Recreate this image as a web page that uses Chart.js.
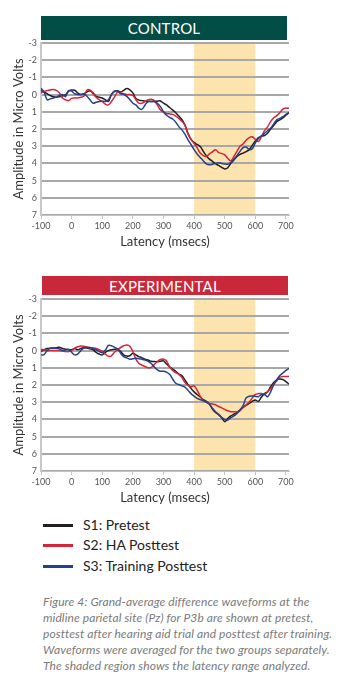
<!DOCTYPE html>
<html>
<head>
<meta charset="utf-8">
<script src="https://cdn.jsdelivr.net/npm/chart.js@4/dist/chart.umd.min.js"></script>
<style>
  html,body{margin:0;padding:0;background:#fff;width:357px;height:688px;overflow:hidden;font-family:"Lato","Open Sans",sans-serif;}
  .cv{position:absolute;left:0;}
  .banner{position:absolute;color:#fff;text-align:center;font-family:"Lato",sans-serif;font-weight:400;letter-spacing:0.2px;}
  #b1{left:41px;top:16px;width:246px;height:24px;line-height:25px;background:#034d47;font-size:15px;}
  #b2{left:42px;top:276px;width:246px;height:19px;line-height:20px;background:#c9283a;font-size:15px;}
  .leg{position:absolute;left:43px;font-size:14px;color:#222;font-family:"Lato",sans-serif;}
  .leg span.ln{display:inline-block;width:30px;height:3px;vertical-align:middle;margin-right:10px;position:relative;top:-1px;}
  #cap{position:absolute;left:43px;top:594px;white-space:nowrap;font-size:12px;letter-spacing:0.1px;line-height:16px;font-style:italic;color:#7a7a7a;font-family:"Lato",sans-serif;}
</style>
</head>
<body>
<canvas id="c1" class="cv" style="top:0px;width:357px;height:250px"></canvas>
<canvas id="c2" class="cv" style="top:256px;width:357px;height:250px"></canvas>
<div id="b1" class="banner">CONTROL</div>
<div id="b2" class="banner">EXPERIMENTAL</div>
<div class="leg" style="top:516px"><span class="ln" style="background:#231f20"></span>S1: Pretest</div>
<div class="leg" style="top:536px"><span class="ln" style="background:#d2263a"></span>S2: HA Posttest</div>
<div class="leg" style="top:557px"><span class="ln" style="background:#27408b"></span>S3: Training Posttest</div>
<div id="cap">Figure 4: Grand-average difference waveforms at the<br>midline parietal site (Pz) for P3b are shown at pretest,<br>posttest after hearing aid trial and posttest after training.<br>Waveforms were averaged for the two groups separately.<br>The shaded region shows the latency range analyzed.</div>
<script>
// Latency (ms) sampled every 10 ms from -100 to 710
const latency = [];
for (let t = -100; t <= 710; t += 10) latency.push(t);

const seriesNames = ["S1: Pretest", "S2: HA Posttest", "S3: Training Posttest"];
const xTickLabels = [-100, 0, 100, 200, 300, 400, 500, 600, 700];
const yTickLabels = [-3, -2, -1, 0, 1, 2, 3, 4, 5, 6, 7];
const shadedRange = [400, 600];

// CONTROL group
const controlPretest = [-0.23,-0.15,-0.05,0.05,0.12,0.15,0.12,0.08,0.02,-0.2,-0.27,-0.25,-0.1,0.0,-0.05,-0.15,-0.23,-0.1,0.1,0.15,0.2,0.3,0.4,0.0,-0.2,-0.22,-0.15,-0.25,-0.35,-0.28,-0.1,0.22,0.32,0.35,0.38,0.4,0.4,0.4,0.38,0.37,0.5,0.6,0.75,0.9,1.05,1.25,1.45,1.77,2.25,2.6,2.78,2.9,3.02,3.3,3.55,3.75,3.88,4.02,4.12,4.23,4.32,4.25,4.0,3.8,3.6,3.47,3.4,3.32,3.2,2.95,2.7,2.5,2.42,2.38,2.25,2.0,1.8,1.57,1.47,1.35,1.2,1.05];
const controlHA = [-0.1,-0.18,-0.23,-0.27,-0.3,-0.25,-0.1,0.2,0.3,0.35,0.22,0.2,0.2,0.15,0.1,-0.25,-0.27,-0.05,0.15,0.3,0.4,0.55,0.6,0.4,0.15,-0.15,-0.1,-0.05,0.0,0.0,0.05,0.3,0.5,0.5,0.4,0.3,0.27,0.35,0.6,0.9,1.0,1.1,1.12,1.15,1.25,1.38,1.55,1.77,2.3,2.6,2.83,3.1,3.4,3.55,3.6,3.45,3.33,3.2,3.37,3.42,3.5,3.7,3.85,3.6,3.3,3.0,2.87,2.65,2.5,2.45,2.6,2.73,2.45,2.1,1.88,1.57,1.35,1.22,1.05,0.85,0.78,0.8];
const controlTraining = [-0.37,-0.15,0.3,0.25,0.2,0.15,0.05,0.0,0.12,-0.23,-0.2,-0.05,0.0,0.0,-0.05,0.1,0.3,0.5,0.45,0.4,0.38,0.4,0.3,0.0,-0.18,-0.2,-0.05,-0.02,0.1,0.28,0.5,0.6,0.8,0.85,0.6,0.4,0.4,0.4,0.5,0.7,1.0,1.2,1.32,1.42,1.6,1.86,2.05,2.3,2.63,2.9,3.2,3.45,3.65,3.85,4.03,4.08,4.05,4.0,3.96,4.0,4.03,4.05,3.95,3.76,3.55,3.3,3.08,3.05,3.2,3.15,2.8,2.55,2.4,2.25,2.1,1.95,1.7,1.47,1.38,1.28,1.15,1.05];

// EXPERIMENTAL group
const expPretest = [0.05,-0.05,-0.12,-0.14,-0.14,-0.16,-0.2,-0.12,-0.08,-0.05,-0.05,-0.12,-0.05,-0.12,-0.17,-0.15,-0.1,-0.05,0.1,0.2,0.25,0.1,0.0,-0.05,-0.08,-0.08,0.05,0.25,0.32,0.3,0.15,0.25,0.35,0.42,0.5,0.55,0.62,0.64,0.64,0.62,0.6,0.78,0.95,1.08,1.2,1.36,1.45,1.7,1.98,2.2,2.4,2.55,2.7,2.85,2.95,3.1,3.4,3.6,3.72,3.9,4.13,3.95,3.8,3.7,3.6,3.45,3.3,3.18,3.07,2.95,2.87,2.95,2.7,2.5,2.39,2.1,1.85,1.7,1.65,1.68,1.8,1.95];
const expHA = [-0.08,-0.03,0.0,0.0,0.0,0.0,0.0,0.02,0.05,0.06,0.0,-0.14,-0.22,-0.27,-0.25,-0.2,-0.17,-0.15,-0.12,-0.05,0.05,0.2,0.33,0.3,0.1,-0.05,-0.18,-0.28,-0.33,-0.25,0.05,0.5,0.75,0.85,0.93,1.0,0.98,0.8,0.65,0.52,0.5,0.6,0.95,1.15,1.28,1.38,1.55,1.85,2.02,2.1,2.05,2.3,2.65,2.9,3.0,3.07,3.1,3.15,3.25,3.33,3.42,3.5,3.55,3.56,3.56,3.5,3.3,3.15,3.0,2.75,2.55,2.5,2.5,2.55,2.4,2.2,1.95,1.75,1.55,1.5,1.51,1.51];
const expTraining = [0.25,0.23,0.0,-0.14,-0.15,-0.14,-0.1,0.0,-0.03,-0.08,0.1,0.25,0.2,0.0,-0.15,-0.2,-0.18,-0.12,-0.05,0.05,0.12,-0.02,-0.3,-0.28,-0.2,-0.1,0.15,0.35,0.42,0.5,0.48,0.45,0.47,0.5,0.55,0.62,0.75,0.95,1.12,1.2,1.2,1.25,1.38,1.65,1.9,1.97,2.05,2.12,2.3,2.5,2.65,2.78,2.85,2.92,3.0,3.12,3.35,3.55,3.7,3.88,4.0,4.04,3.9,3.8,3.65,3.45,3.2,2.75,2.65,2.64,2.66,2.68,2.55,2.55,2.68,2.4,2.0,1.7,1.45,1.3,1.15,1.03];

const seriesColors = ["#231f20", "#d2263a", "#27408b"];

const shadePlugin = {
  id: 'shade',
  beforeDraw(chart) {
    const {ctx, chartArea, scales} = chart;
    const x0 = scales.x.getPixelForValue(shadedRange[0]);
    const x1 = scales.x.getPixelForValue(shadedRange[1]);
    ctx.save();
    ctx.fillStyle = '#fde4ae';
    ctx.fillRect(x0, chartArea.top, x1 - x0, chartArea.bottom - chartArea.top);
    ctx.restore();
  }
};

function makeChart(id, seriesList, padLeft) {
  const datasets = seriesList.map((vals, i) => ({
    label: seriesNames[i],
    data: latency.map((t, k) => ({x: t, y: vals[k]})),
    borderColor: seriesColors[i],
    borderWidth: 1.5,
    pointRadius: 0,
    tension: 0.35,
    fill: false
  }));
  // draw black on top like the reference (blue, red, black order)
  const ordered = [datasets[2], datasets[1], datasets[0]];
  return new Chart(document.getElementById(id), {
    type: 'line',
    data: {datasets: ordered},
    plugins: [shadePlugin],
    options: {
      responsive: false,
      animation: false,
      devicePixelRatio: 1,
      layout: {padding: {top: 43, left: padLeft, right: 68, bottom: 0}},
      plugins: {legend: {display: false}, tooltip: {enabled: false}},
      scales: {
        x: {
          type: 'linear',
          min: -100, max: 710,
          afterBuildTicks(scale) { scale.ticks = xTickLabels.map(v => ({value: v})); },
          afterFit(scale) { scale.height = 35; },
          grid: {drawOnChartArea: false, drawTicks: true, tickLength: 4, color: '#c4c4c4', lineWidth: 1},
          border: {color: '#c4c4c4', width: 1},
          ticks: {font: {family: 'Lato', size: 9}, color: '#555', padding: 2, maxRotation: 0},
          title: {display: true, text: 'Latency (msecs)', font: {family: 'Lato', size: 13}, color: '#333', padding: {top: 1, bottom: 0}}
        },
        y: {
          type: 'linear',
          reverse: true,
          min: -3, max: 7,
          afterBuildTicks(scale) { scale.ticks = yTickLabels.map(v => ({value: v})); },
          afterFit(scale) { scale.width = 41 - padLeft; },
          grid: {drawTicks: false, color: '#a8a8a8', lineWidth: 2},
          border: {color: '#c8c8c8', width: 2},
          ticks: {font: {family: 'Lato', size: 9}, color: '#555', padding: 4},
          title: {display: true, text: 'Amplitude in Micro Volts', font: {family: 'Lato', size: 13}, color: '#333', padding: {top: 5, bottom: 0}}
        }
      }
    }
  });
}

const cv1 = document.getElementById('c1'); cv1.width = 357; cv1.height = 250;
const cv2 = document.getElementById('c2'); cv2.width = 357; cv2.height = 250;
makeChart('c1', [controlPretest, controlHA, controlTraining], 6);
makeChart('c2', [expPretest, expHA, expTraining], 6);
</script>
</body>
</html>
